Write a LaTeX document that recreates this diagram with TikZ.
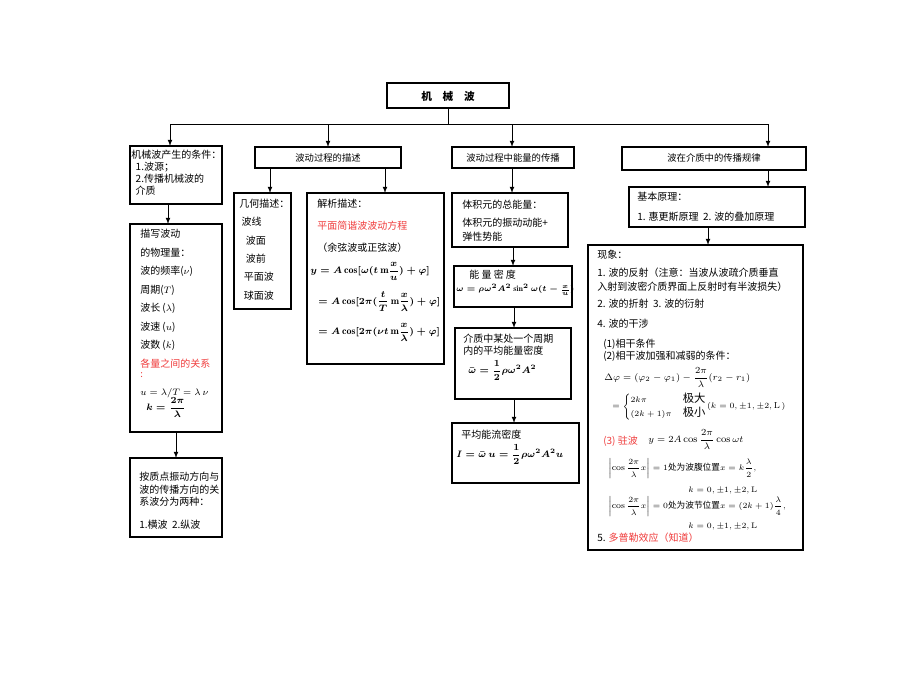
\documentclass[tikz,border=0pt]{standalone}
\usepackage{fontspec}
\usepackage{amsmath}
\newfontfamily\cjk{Noto Sans CJK SC}
\definecolor{redtxt}{RGB}{240,60,60}
\begin{document}
\begin{tikzpicture}[x=0.75pt,y=-0.75pt,
  box/.style={draw,line width=0.8pt,inner sep=0pt},
  txt/.style={anchor=north west,inner sep=0pt,align=left,font=\cjk\fontsize{7}{9.5}\selectfont},
  arr/.style={-latex,line width=0.6pt},
  ln/.style={line width=0.6pt}]
\fill[white] (0,0) rectangle (920,690);
% boxes
\draw[box] (387,83) rectangle (509,108); \node[font=\cjk\bfseries\fontsize{8}{10}\selectfont] (title) at (448,96) {机\quad 械\quad 波};
\coordinate (tb) at (448,108);
\draw[box] (130,146) rectangle (222,204);
\draw[box] (255,147) rectangle (401,168); \node[txt,anchor=center] (b2) at (328,158) {波动过程的描述};
\draw[box] (452,147) rectangle (574,168); \node[txt,anchor=center] (b3) at (513,158) {波动过程中能量的传播};
\draw[box] (622,147) rectangle (806,170); \node[txt,anchor=center] (b4) at (714,158) {波在介质中的传播规律};
\draw[box] (130,224) rectangle (222,432);
\draw[box] (130,458) rectangle (222,537);
\draw[box] (234,193) rectangle (291,309);
\draw[box] (307,193) rectangle (444,364);
\draw[box] (452,193) rectangle (568,247);
\draw[box] (454,266) rectangle (572,307);
\draw[box] (455,328) rectangle (571,399);
\draw[box] (452,423) rectangle (579,483);
\draw[box] (629,187) rectangle (805,227);
\draw[box] (588,245) rectangle (803,550);
% connectors
\coordinate (hl) at (170,124); \coordinate (hr) at (768,124); \coordinate (hm) at (448,124);
\draw[ln] (tb) -- (hm);
\draw[ln] (hl) -- (hr);
\draw[arr] (hl) -- (170,146);
\draw[arr] (328,124) -- (328,147);
\draw[arr] (512,124) -- (512,147);
\draw[arr] (hr) -- (768,147);
\draw[arr] (168,204) -- (168,224);
\draw[arr] (176,432) -- (176,458);
\draw[arr] (270,168) -- (270,193);
\draw[arr] (385,168) -- (385,193);
\draw[arr] (512,168) -- (512,193);
\draw[arr] (513,247) -- (513,266);
\draw[arr] (514,307) -- (514,328);
\draw[arr] (514,399) -- (514,423);
\draw[arr] (768,170) -- (768,187);
\draw[arr] (708,227) -- (708,245);
% texts
\node[txt,font=\cjk\fontsize{7.5}{9}\selectfont] (t1) at (131,150) {机械波产生的条件：\\\ \ 1.波源；\\\ \ 2.传播机械波的\\\ \ 介质};
\node[txt,font=\cjk\fontsize{7.5}{13.9}\selectfont] (t5) at (140,229) {描写波动\\的物理量：\\波的频率($\nu$)\\周期($T$)\\波长 ($\lambda$)\\波速 ($u$)\\波数 ($k$)\\\textcolor{redtxt}{各量之间的关系}};
\node[txt,text=redtxt] at (140,372) {:};
\node[txt] at (140,388) {$u=\lambda/T=\lambda\,\nu$};
\node[txt,font=\fontsize{7}{9}\selectfont] at (146,397) {$\boldsymbol{k=\dfrac{2\pi}{\lambda}}$};
\node[txt,font=\cjk\fontsize{7.5}{9.2}\selectfont] (t6) at (139,472) {按质点振动方向与\\波的传播方向的关\\系波分为两种：\\[8pt]1.横波\ \ 2.纵波};
\node[txt,font=\cjk\fontsize{7.5}{13.7}\selectfont] (t7) at (239,199) {几何描述：\\\ 波线\\\ \ \ 波面\\\ \ \ 波前\\\ \ 平面波\\\ \ 球面波};
\node[txt,font=\cjk\fontsize{7.5}{16.5}\selectfont] (t8) at (317,199) {解析描述：\\\textcolor{redtxt}{平面简谐波波动方程}\\（余弦波或正弦波）};
\node[txt,font=\fontsize{7.5}{9}\selectfont] at (310,262) {$\boldsymbol{y=A\cos[\omega(t\,\mathrm{m}\dfrac{x}{u})+\varphi]}$};
\node[txt,font=\fontsize{7.5}{9}\selectfont] at (318,291) {$\boldsymbol{=A\cos[2\pi(\dfrac{t}{T}\,\mathrm{m}\dfrac{x}{\lambda})+\varphi]}$};
\node[txt,font=\fontsize{7.5}{9}\selectfont] at (318,323) {$\boldsymbol{=A\cos[2\pi(\nu t\,\mathrm{m}\dfrac{x}{\lambda})+\varphi]}$};
\node[txt,font=\cjk\fontsize{7.5}{10.5}\selectfont] (t9) at (462,200) {体积元的总能量：\\[3pt]体积元的振动动能+\\弹性势能};
\node[txt,font=\cjk\fontsize{7.5}{9}\selectfont] at (469,270) {能\ 量\ 密\ 度};
\node[txt,font=\fontsize{6}{9}\selectfont] at (456,284) {$\boldsymbol{\omega=\rho\omega^2A^2\sin^2\omega(t-\frac{x}{u})}$};
\node[txt,font=\cjk\fontsize{7.5}{9}\selectfont] at (463,334) {介质中某处一个周期\\内的平均能量密度};
\node[txt,font=\fontsize{7.5}{9}\selectfont] at (468,360) {$\boldsymbol{\bar{\omega}=\dfrac{1}{2}\rho\omega^2A^2}$};
\node[txt,font=\cjk\fontsize{7.5}{9}\selectfont] at (461,430) {平均能流密度};
\node[txt,font=\fontsize{7.5}{9}\selectfont] at (456,444) {$\boldsymbol{I=\bar{\omega}\,u=\dfrac{1}{2}\rho\omega^2A^2u}$};
\node[txt,font=\cjk\fontsize{7.5}{15}\selectfont] at (637,192) {基本原理：\\1. 惠更斯原理\ \ 2. 波的叠加原理};
\node[txt,font=\cjk\fontsize{7.5}{9}\selectfont] at (597,250) {现象：};
\node[txt,font=\cjk\fontsize{7.5}{10.5}\selectfont] at (597,268) {1. 波的反射（注意：当波从波疏介质垂直\\入射到波密介质界面上反射时有半波损失）};
\node[txt,font=\cjk\fontsize{7.5}{9}\selectfont] at (597,299) {2. 波的折射\ \ 3. 波的衍射};
\node[txt,font=\cjk\fontsize{7.5}{9}\selectfont] at (597,319) {4. 波的干涉};
\node[txt,font=\cjk\fontsize{7.5}{9}\selectfont] at (603,339) {(1)相干条件\\(2)相干波加强和减弱的条件：};
\node[txt,font=\fontsize{7}{9}\selectfont] at (604,367) {$\Delta\varphi=(\varphi_2-\varphi_1)-\dfrac{2\pi}{\lambda}(r_2-r_1)$};
\node[txt,font=\fontsize{6.5}{9}\selectfont] at (612,392) {$=\begin{cases}2k\pi & \text{\cjk\fontsize{8.5}{9}\selectfont\ 极大}\\(2k+1)\pi & \text{\cjk\fontsize{8.5}{9}\selectfont\ 极小}\end{cases}\!(k=0,\pm1,\pm2,\mathrm{L}\,)$};
\node[txt,text=redtxt,font=\cjk\fontsize{7.5}{9}\selectfont] at (603,436) {(3) 驻波};
\node[txt,font=\fontsize{7.5}{9}\selectfont] at (648,429) {$y=2A\cos\dfrac{2\pi}{\lambda}\cos\omega t$};
\node[txt,font=\fontsize{6.5}{9}\selectfont] at (608,458) {$\left|\cos\dfrac{2\pi}{\lambda}x\right|=1\text{\cjk 处为波腹位置}x=k\dfrac{\lambda}{2},$};
\node[txt,font=\fontsize{6}{8}\selectfont] at (688,487) {$k=0,\pm1,\pm2,\mathrm{L}$};
\node[txt,font=\fontsize{6.5}{9}\selectfont] at (608,496) {$\left|\cos\dfrac{2\pi}{\lambda}x\right|=0\text{\cjk 处为波节位置}x=(2k+1)\dfrac{\lambda}{4},$};
\node[txt,font=\fontsize{6}{8}\selectfont] at (688,523) {$k=0,\pm1,\pm2,\mathrm{L}$};
\node[txt,font=\cjk\fontsize{7.5}{9}\selectfont] at (597,533) {5. \textcolor{redtxt}{多普勒效应（知道）}};
\end{tikzpicture}
\end{document}
